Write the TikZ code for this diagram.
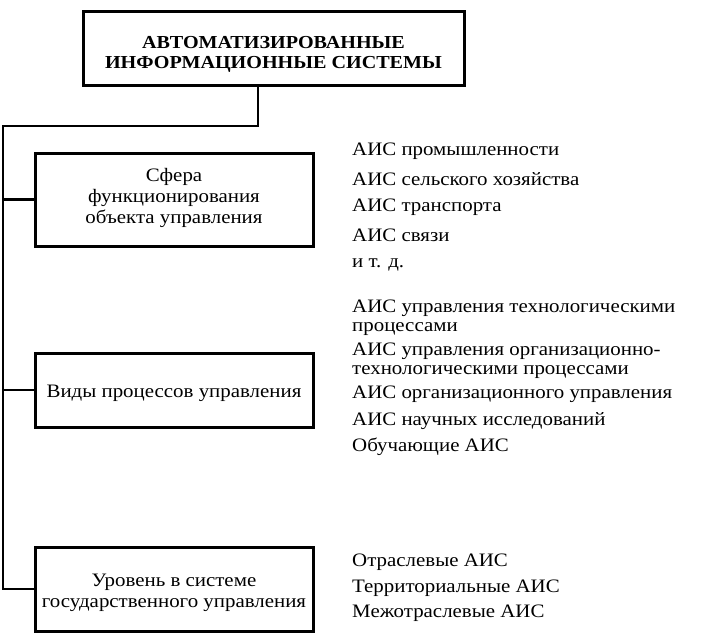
\documentclass[tikz,border=0pt]{standalone}
\usepackage{fontspec}
\setmainfont[FakeStretch=1.1]{Liberation Serif}
\begin{document}
\begin{tikzpicture}[x=1pt,y=-1pt,
  box/.style={draw, line width=3pt, inner sep=0pt},
  conn/.style={line width=2.8pt},
  item/.style={anchor=west, inner sep=0pt, align=left, font=\fontsize{19}{19.5}\selectfont},
  btext/.style={inner sep=0pt, align=center, font=\fontsize{19}{21}\selectfont}]
\useasboundingbox (0,0) rectangle (713,634);
% main box
\node[box, minimum width=381pt, minimum height=74pt] (top) at (273.5,49) {};
\node[btext, font=\fontsize{18.3}{20}\selectfont\bfseries] (toptext) at (273.5,54)
  {АВТОМАТИЗИРОВАННЫЕ\\ИНФОРМАЦИОННЫЕ СИСТЕМЫ};
% category boxes
\node[box, minimum width=278pt, minimum height=93pt] (b1) at (174,199.5) {};
\node[btext] (t1) at (174,198) {Сфера\\функционирования\\объекта управления};
\node[box, minimum width=278pt, minimum height=74pt] (b2) at (174,390) {};
\node[btext] (t2) at (174,393) {Виды процессов управления};
\node[box, minimum width=278pt, minimum height=84pt] (b3) at (174,589) {};
\node[btext] (t3) at (174,593) {Уровень в системе\\государственного управления};
% connectors
\coordinate (bus) at (3,126);
\draw[conn] (top.south -| 258,0) |- (bus) -- (3,589) -- (b3.west);
\draw[conn] (b1.west -| bus) -- (b1.west);
\draw[conn] (b2.west -| bus) -- (b2.west);
% right lists
\node[item] (a1) at (352,151.5) {АИС промышленности};
\node[item] (a2) at (352,179.5) {АИС сельского хозяйства};
\node[item] (a3) at (352,207.5) {АИС транспорта};
\node[item] (a4) at (352,235.5) {АИС связи};
\node[item] (a5) at (352,264.5) {и т. д.};
\node[item] (v1) at (352,317.5) {АИС управления технологическими\\процессами};
\node[item] (v2) at (352,360.5) {АИС управления организационно-\\технологическими процессами};
\node[item] (v3) at (352,394.5) {АИС организационного управления};
\node[item] (v4) at (352,421.5) {АИС научных исследований};
\node[item] (v5) at (352,446.5) {Обучающие АИС};
\node[item] (u1) at (352,562.5) {Отраслевые АИС};
\node[item] (u2) at (352,588.5) {Территориальные АИС};
\node[item] (u3) at (352,613.5) {Межотраслевые АИС};
\end{tikzpicture}
\end{document}
